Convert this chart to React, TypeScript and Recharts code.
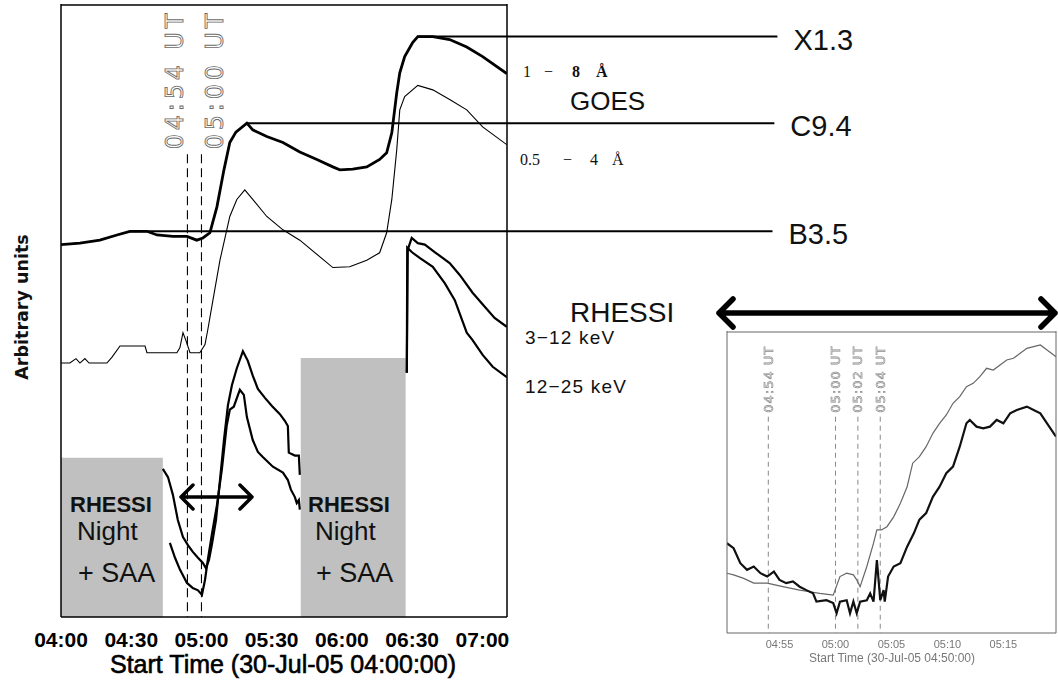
import React from 'react';
import { LineChart, Line, XAxis, YAxis, ReferenceLine, ReferenceArea } from 'recharts';

// ---------- main panel: minutes after 04:00 UT, arbitrary units ----------
const MAIN_X_DOMAIN: [number, number] = [0, 190.5];
const MAIN_Y_DOMAIN: [number, number] = [0, 8.28];
const MAIN_MAJOR_TICKS = [0, 30, 60, 90, 120, 150, 180];
const MAIN_MINOR_TICKS = [10, 20, 40, 50, 70, 80, 100, 110, 130, 140, 160, 170];
const MAIN_Y_TICKS = [1, 2, 3, 4, 5, 6, 7, 8];

// GOES 1-8 A
const GOES_LONG_T = [0, 8.1, 16.6, 23.9, 29.4, 36.7, 41.0, 47.8, 53.8, 58.0, 60.6, 63.6, 66.6, 69.6, 72.1, 74.7, 79.4, 81.9, 87.9, 94.8, 102.0, 109.3, 116.1, 119.1, 124.6, 130.6, 136.1, 139.1, 141.3, 143.4, 144.7, 146.8, 150.2, 152.4, 158.8, 166.0, 173.3, 180.1, 190.4];
const GOES_LONG_V = [5.03, 5.05, 5.09, 5.16, 5.21, 5.21, 5.16, 5.14, 5.14, 5.09, 5.12, 5.19, 5.54, 6.04, 6.41, 6.55, 6.67, 6.58, 6.49, 6.41, 6.28, 6.18, 6.08, 6.04, 6.05, 6.08, 6.18, 6.27, 6.54, 7.08, 7.35, 7.57, 7.76, 7.84, 7.84, 7.80, 7.70, 7.57, 7.34];

// GOES 0.5-4 A
const GOES_SHORT_T = [0, 3.8, 6.4, 8.1, 10.2, 12.0, 19.6, 21.8, 25.2, 35.9, 36.7, 49.5, 50.8, 52.1, 53.3, 55.1, 59.3, 61.5, 62.7, 64.9, 67.9, 72.1, 75.1, 78.5, 81.9, 87.9, 94.8, 102.0, 116.1, 123.3, 130.6, 136.1, 139.1, 141.3, 143.4, 144.7, 146.8, 152.4, 158.8, 166.0, 173.3, 180.1, 190.4];
const GOES_SHORT_V = [3.43, 3.43, 3.49, 3.43, 3.49, 3.43, 3.43, 3.51, 3.66, 3.66, 3.57, 3.57, 3.64, 3.84, 3.74, 3.57, 3.57, 3.68, 3.88, 4.28, 4.82, 5.41, 5.64, 5.77, 5.64, 5.41, 5.23, 5.09, 4.72, 4.73, 4.82, 4.92, 5.19, 5.64, 6.31, 6.85, 7.03, 7.18, 7.12, 6.99, 6.85, 6.62, 6.38];

// RHESSI 3-12 keV, first and second daylight orbit
const HXR_LO_1_T = [43.5, 45.7, 47.8, 49.9, 52.1, 54.2, 56.3, 58.5, 60.6, 61.9, 63.2, 64.4, 66.2, 67.9, 69.6, 71.3, 73.0, 75.1, 77.7, 79.8, 81.9, 84.1, 87.1, 90.1, 93.5, 95.6, 96.9, 97.3, 99.9, 101.6, 102.0];
const HXR_LO_1_V = [2.0, 1.89, 1.65, 1.31, 1.08, 0.97, 0.88, 0.80, 0.73, 0.66, 0.77, 0.97, 1.31, 1.85, 2.39, 2.86, 3.13, 3.36, 3.59, 3.46, 3.26, 3.08, 2.96, 2.85, 2.74, 2.65, 2.58, 2.22, 2.18, 2.18, 1.92];
const HXR_LO_2_T = [147.7, 148.1, 149.8, 152.4, 155.4, 159.6, 166.0, 170.3, 175.8, 181.0, 185.2, 190.4];
const HXR_LO_2_V = [3.30, 4.96, 5.12, 5.05, 5.03, 4.93, 4.78, 4.62, 4.38, 4.19, 4.04, 3.92];

// RHESSI 12-25 keV
const HXR_HI_1_T = [46.5, 48.7, 50.8, 53.8, 56.3, 58.5, 60.2, 61.5, 62.7, 64.4, 66.6, 68.7, 70.8, 72.1, 73.8, 76.4, 78.1, 79.4, 81.9, 84.1, 86.2, 90.5, 94.8, 96.9, 98.2, 99.9, 100.7, 101.6, 102.0];
const HXR_HI_1_V = [1.0, 0.80, 0.64, 0.46, 0.39, 0.36, 0.30, 0.50, 0.77, 1.11, 1.51, 1.99, 2.59, 2.80, 2.84, 3.07, 3.0, 2.70, 2.39, 2.23, 2.16, 2.03, 1.95, 1.85, 1.72, 1.62, 1.54, 1.58, 1.45];
const HXR_HI_2_T = [147.7, 147.9, 149.8, 153.2, 158.8, 163.9, 168.2, 173.3, 175.8, 180.1, 184.4, 190.4];
const HXR_HI_2_V = [3.30, 4.99, 4.93, 4.85, 4.73, 4.51, 4.28, 3.84, 3.74, 3.54, 3.38, 3.24];

// GOES class levels
const LEVEL_NAMES = ['X1.3', 'C9.4', 'B3.5'];
const LEVEL_VALUES = [7.84, 6.67, 5.21];
const LEVEL_FROM = [152.4, 79.4, 29.4];
const LEVEL_TO = [306, 304.7, 303.9];

// RHESSI night + SAA intervals
const NIGHT_FROM = [0, 102.4];
const NIGHT_TO = [43.5, 147.2];
const NIGHT_TOP = [2.15, 3.5];

const MAIN_MARKER_T = [54, 60];
const MAIN_MARKER_TEXT = ['04:54 UT', '05:00 UT'];
const MAIN_MARKER_TOP = 6.25;

// ---------- inset: 04:50 - 05:20, counts (log) ----------
const INSET_X_DOMAIN: [number, number] = [50.31, 79.7];
const INSET_Y_DOMAIN: [number, number] = [2.07, 10000];
const INSET_MAJOR_TICKS = [55, 60, 65, 70, 75];
const INSET_MINOR_TICKS = [51, 52, 53, 54, 56, 57, 58, 59, 61, 62, 63, 64, 66, 67, 68, 69, 71, 72, 73, 74, 76, 77, 78, 79];
const INSET_Y_MAJOR = [10, 100, 1000];
const INSET_Y_MINOR = [3, 4, 5, 6, 7, 8, 9, 20, 30, 40, 50, 60, 70, 80, 90, 200, 300, 400, 500, 600, 700, 800, 900, 2000, 3000, 4000, 5000, 6000, 7000, 8000, 9000];

const INSET_LO_T = [50.3, 50.9, 51.8, 52.7, 53.9, 55.3, 56.8, 57.7, 58.6, 59.8, 60.4, 61.0, 61.6, 61.9, 62.2, 62.8, 63.4, 63.7, 64.1, 64.6, 65.2, 65.8, 66.4, 66.9, 67.5, 68.1, 68.7, 69.3, 69.9, 70.5, 71.1, 71.7, 72.3, 72.9, 73.5, 74.1, 74.7, 75.3, 75.9, 76.5, 77.1, 77.7, 78.3, 78.9, 79.7];
const INSET_LO_V = [11.1, 10.6, 9.6, 8.4, 8.4, 7.6, 6.9, 6.6, 6.3, 6.0, 10.1, 11.1, 10.6, 9.2, 7.6, 13.4, 25.8, 37.4, 37.4, 41, 54, 79, 126, 244, 293, 388, 565, 748, 946, 1313, 1582, 2094, 2301, 2775, 3508, 3344, 3849, 4430, 4643, 5343, 6150, 6443, 6750, 5860, 4860];

const INSET_HI_T = [50.3, 50.9, 51.5, 52.1, 52.7, 53.3, 53.9, 54.5, 55.0, 55.6, 56.2, 56.8, 57.4, 58.0, 58.3, 59.2, 59.8, 60.1, 60.4, 61.0, 61.3, 61.6, 61.9, 62.2, 62.8, 63.1, 63.4, 63.7, 64.0, 64.3, 64.4, 64.7, 65.2, 65.8, 66.4, 67.0, 67.5, 68.1, 68.7, 69.3, 69.9, 70.5, 71.1, 71.7, 72.0, 72.6, 73.2, 73.8, 74.4, 75.0, 75.6, 76.2, 77.1, 77.7, 78.3, 78.9, 79.7];
const INSET_HI_V = [25.8, 22.4, 14.7, 12.2, 13.4, 11.1, 10.1, 11.6, 9.2, 8.4, 8.8, 7.6, 6.9, 6.3, 5.0, 5.2, 4.8, 3.6, 5.0, 5.2, 3.6, 5.0, 3.6, 5.0, 5.2, 6.3, 5.0, 16.1, 5.2, 6.9, 5.0, 10.1, 13.4, 14.7, 23.4, 34, 50, 60, 95, 126, 184, 222, 388, 748, 822, 681, 650, 681, 822, 748, 991, 1089, 1195, 1089, 991, 748, 514];

const INSET_MARKER_T = [54, 60, 62, 64];
const INSET_MARKER_TEXT = ['04:54 UT', '05:00 UT', '05:02 UT', '05:04 UT'];
const INSET_MARKER_TOP = 900;

const series = (t: number[], v: number[]) => t.map((x, i) => ({ t: x, v: v[i] }));

const fmtTime = (m: number) => {
  const h = 4 + Math.floor(m / 60);
  const mm = Math.round(m % 60);
  return `${String(h).padStart(2, '0')}:${String(mm).padStart(2, '0')}`;
};

const SANS = 'Liberation Sans, Arial, sans-serif';
const SERIF = 'Liberation Serif, Times New Roman, serif';
const MARK_FONT = 'DejaVu Sans, sans-serif';

// rotated text hung on a vertical reference line
const markerLabel = (text: string, dx: number, dy: number, style: any) => (props: any) => {
  const vb = props?.viewBox ?? { x: 0, y: 0 };
  const x = vb.x + dx;
  const y = vb.y + dy;
  return (
    <text x={x} y={y} transform={`rotate(-90 ${x} ${y})`} {...style}>
      {text}
    </text>
  );
};

const levelLabel = (text: string) => (props: any) => {
  const vb = props?.viewBox ?? { x: 0, y: 0, width: 0 };
  return (
    <text x={vb.x + vb.width + 16} y={vb.y + 13} fontSize={29} fontFamily={SANS} fill="#111">
      {text}
    </text>
  );
};

const MAIN_MARKER_STYLE = {
  fontFamily: MARK_FONT,
  fontSize: 24,
  letterSpacing: 3.8,
  fill: '#fff',
  stroke: '#6a6a6a',
  strokeWidth: 0.9,
};
const MAIN_MARKER_DX = [-4.5, 21.5];

const INSET_MARKER_STYLE = {
  fontFamily: MARK_FONT,
  fontSize: 13,
  letterSpacing: 1,
  fill: 'none',
  stroke: '#888',
  strokeWidth: 0.6,
};

const tickStroke = { stroke: '#000', strokeWidth: 1.3 };
const frameStroke = { stroke: '#000', strokeWidth: 1.5 };
const insetStroke = { stroke: '#666', strokeWidth: 1 };

function MainPanel() {
  const xCommon = { type: 'number' as const, dataKey: 't', domain: MAIN_X_DOMAIN, allowDataOverflow: true, interval: 0 as const };
  const yCommon = { type: 'number' as const, domain: MAIN_Y_DOMAIN, allowDataOverflow: true, interval: 0 as const };
  return (
    <LineChart width={1058} height={681} margin={{ top: 4, right: 551, bottom: 0, left: 61 }}>
      {/* inward tick marks on all four sides */}
      <XAxis xAxisId="minB" {...xCommon} orientation="bottom" mirror height={1} ticks={MAIN_MINOR_TICKS} tick={false} tickSize={7} tickLine={tickStroke} axisLine={false} />
      <XAxis xAxisId="majB" {...xCommon} orientation="bottom" mirror height={1} ticks={MAIN_MAJOR_TICKS} tick={false} tickSize={13} tickLine={tickStroke} axisLine={false} />
      <XAxis xAxisId="minT" {...xCommon} orientation="top" mirror height={1} ticks={MAIN_MINOR_TICKS} tick={false} tickSize={8} tickLine={tickStroke} axisLine={frameStroke} />
      <XAxis xAxisId="majT" {...xCommon} orientation="top" mirror height={1} ticks={MAIN_MAJOR_TICKS} tick={false} tickSize={12} tickLine={tickStroke} axisLine={false} />
      <XAxis
        xAxisId="x"
        {...xCommon}
        orientation="bottom"
        height={64}
        ticks={MAIN_MAJOR_TICKS}
        tickFormatter={fmtTime}
        tickLine={false}
        tickSize={6}
        tickMargin={9}
        axisLine={frameStroke}
        tick={{ fill: '#000', fontSize: 21, fontWeight: 700, fontFamily: SANS }}
      />
      <YAxis yAxisId="y" {...yCommon} orientation="left" mirror width={1} ticks={MAIN_Y_TICKS} tick={false} tickSize={8} tickLine={tickStroke} axisLine={frameStroke} />
      <YAxis yAxisId="yR" {...yCommon} orientation="right" mirror width={1} ticks={MAIN_Y_TICKS} tick={false} tickSize={8} tickLine={tickStroke} axisLine={frameStroke} />

      {NIGHT_FROM.map((x1, i) => (
        <ReferenceArea key={`night-${i}`} xAxisId="x" yAxisId="y" x1={x1} x2={NIGHT_TO[i]} y1={0} y2={NIGHT_TOP[i]} fill="#c0c0c0" fillOpacity={1} stroke="none" />
      ))}

      {MAIN_MARKER_T.map((t, i) => (
        <ReferenceLine
          key={`mk-${t}`}
          xAxisId="x"
          yAxisId="y"
          ifOverflow="visible"
          segment={[{ x: t, y: MAIN_MARKER_TOP }, { x: t, y: 0 }]}
          stroke="#000"
          strokeWidth={1.1}
          strokeDasharray="9 5"
          label={markerLabel(MAIN_MARKER_TEXT[i], MAIN_MARKER_DX[i], -5, MAIN_MARKER_STYLE)}
        />
      ))}

      <Line xAxisId="x" yAxisId="y" data={series(GOES_SHORT_T, GOES_SHORT_V)} dataKey="v" type="linear" stroke="#000" strokeWidth={1.1} dot={false} isAnimationActive={false} />
      <Line xAxisId="x" yAxisId="y" data={series(GOES_LONG_T, GOES_LONG_V)} dataKey="v" type="linear" stroke="#000" strokeWidth={2.8} dot={false} isAnimationActive={false} />
      <Line xAxisId="x" yAxisId="y" data={series(HXR_LO_1_T, HXR_LO_1_V)} dataKey="v" type="linear" stroke="#000" strokeWidth={2.2} dot={false} isAnimationActive={false} />
      <Line xAxisId="x" yAxisId="y" data={series(HXR_HI_1_T, HXR_HI_1_V)} dataKey="v" type="linear" stroke="#000" strokeWidth={2.2} dot={false} isAnimationActive={false} />
      <Line xAxisId="x" yAxisId="y" data={series(HXR_LO_2_T, HXR_LO_2_V)} dataKey="v" type="linear" stroke="#000" strokeWidth={2.2} dot={false} isAnimationActive={false} />
      <Line xAxisId="x" yAxisId="y" data={series(HXR_HI_2_T, HXR_HI_2_V)} dataKey="v" type="linear" stroke="#000" strokeWidth={2.2} dot={false} isAnimationActive={false} />

      {LEVEL_NAMES.map((name, i) => (
        <ReferenceLine
          key={name}
          xAxisId="x"
          yAxisId="y"
          ifOverflow="visible"
          segment={[{ x: LEVEL_FROM[i], y: LEVEL_VALUES[i] }, { x: LEVEL_TO[i], y: LEVEL_VALUES[i] }]}
          stroke="#000"
          strokeWidth={2}
          label={levelLabel(name)}
        />
      ))}
    </LineChart>
  );
}

function InsetPanel() {
  const xCommon = { type: 'number' as const, dataKey: 't', domain: INSET_X_DOMAIN, allowDataOverflow: true, interval: 0 as const };
  const yCommon = { type: 'number' as const, scale: 'log' as const, domain: INSET_Y_DOMAIN, allowDataOverflow: true, interval: 0 as const };
  return (
    <div style={{ position: 'absolute', left: 680, top: 300, width: 378, height: 381, filter: 'blur(0.45px)' }}>
      <LineChart width={378} height={381} margin={{ top: 31, right: 2, bottom: 0, left: 47 }}>
        <XAxis xAxisId="minB" {...xCommon} orientation="bottom" mirror height={1} ticks={INSET_MINOR_TICKS} tick={false} tickSize={4} tickLine={insetStroke} axisLine={false} />
        <XAxis xAxisId="majB" {...xCommon} orientation="bottom" mirror height={1} ticks={INSET_MAJOR_TICKS} tick={false} tickSize={7} tickLine={insetStroke} axisLine={false} />
        <XAxis xAxisId="minT" {...xCommon} orientation="top" mirror height={1} ticks={INSET_MINOR_TICKS} tick={false} tickSize={4} tickLine={insetStroke} axisLine={insetStroke} />
        <XAxis xAxisId="majT" {...xCommon} orientation="top" mirror height={1} ticks={INSET_MAJOR_TICKS} tick={false} tickSize={7} tickLine={insetStroke} axisLine={false} />
        <XAxis
          xAxisId="x"
          {...xCommon}
          orientation="bottom"
          height={48}
          ticks={INSET_MAJOR_TICKS}
          tickFormatter={fmtTime}
          tickLine={false}
          tickSize={6}
          tickMargin={1}
          axisLine={insetStroke}
          tick={{ fill: '#777', fontSize: 11, fontFamily: SANS }}
        />
        <YAxis yAxisId="y" {...yCommon} orientation="left" mirror width={1} ticks={INSET_Y_MAJOR} tick={false} tickSize={8} tickLine={insetStroke} axisLine={insetStroke} />
        <YAxis yAxisId="yMin" {...yCommon} orientation="left" mirror width={1} ticks={INSET_Y_MINOR} tick={false} tickSize={4} tickLine={insetStroke} axisLine={false} />
        <YAxis yAxisId="yR" {...yCommon} orientation="right" mirror width={1} ticks={INSET_Y_MAJOR} tick={false} tickSize={8} tickLine={insetStroke} axisLine={insetStroke} />
        <YAxis yAxisId="yRMin" {...yCommon} orientation="right" mirror width={1} ticks={INSET_Y_MINOR} tick={false} tickSize={4} tickLine={insetStroke} axisLine={false} />

        {INSET_MARKER_T.map((t, i) => (
          <ReferenceLine
            key={`imk-${t}`}
            xAxisId="x"
            yAxisId="y"
            ifOverflow="visible"
            segment={[{ x: t, y: INSET_MARKER_TOP }, { x: t, y: INSET_Y_DOMAIN[0] }]}
            stroke="#888"
            strokeWidth={1}
            strokeDasharray="5 4"
            label={markerLabel(INSET_MARKER_TEXT[i], 4.5, -4, INSET_MARKER_STYLE)}
          />
        ))}

        <Line xAxisId="x" yAxisId="y" data={series(INSET_LO_T, INSET_LO_V)} dataKey="v" type="linear" stroke="#666" strokeWidth={1.2} dot={false} isAnimationActive={false} />
        <Line xAxisId="x" yAxisId="y" data={series(INSET_HI_T, INSET_HI_V)} dataKey="v" type="linear" stroke="#111" strokeWidth={2.2} dot={false} isAnimationActive={false} />
      </LineChart>
      <svg width={378} height={381} style={{ position: 'absolute', left: 0, top: 0, pointerEvents: 'none' }}>
        <text x={212} y={362} textAnchor="middle" fontSize={12} fontFamily={SANS} fill="#777">
          Start Time (30-Jul-05 04:50:00)
        </text>
      </svg>
    </div>
  );
}

function Annotations() {
  const boxText = { fontFamily: SANS, fill: '#111' };
  return (
    <svg width={1058} height={681} style={{ position: 'absolute', left: 0, top: 0, pointerEvents: 'none' }}>
      {/* axis titles */}
      <text x={28} y={307} transform="rotate(-90 28 307)" textAnchor="middle" fontSize={17.5} fontWeight={700} fontFamily="DejaVu Sans, sans-serif" fill="#111">
        Arbitrary units
      </text>
      <text x={283} y={673} textAnchor="middle" fontSize={25} fontFamily={SANS} fill="#000" stroke="#000" strokeWidth={0.6}>
        Start Time (30-Jul-05 04:00:00)
      </text>

      {/* night boxes */}
      {[0, 238].map((dx) => (
        <g key={dx}>
          <text x={70 + dx} y={512} fontSize={22} fontWeight={700} {...boxText}>RHESSI</text>
          <text x={77 + dx} y={540} fontSize={26} {...boxText}>Night</text>
          <text x={78 + dx} y={582} fontSize={27} {...boxText}>+ SAA</text>
        </g>
      ))}

      {/* channel labels */}
      <text y={77} fontSize={16} fontFamily={SERIF} fill="#111">
        <tspan x={523}>1</tspan>
        <tspan x={544}>−</tspan>
        <tspan x={572} fontWeight={700}>8</tspan>
        <tspan x={596} fontWeight={700}>Å</tspan>
      </text>
      <text x={570} y={110} fontSize={26} fontFamily={SANS} fill="#111">GOES</text>
      <text y={165} fontSize={16} fontFamily={SERIF} fill="#111">
        <tspan x={520}>0.5</tspan>
        <tspan x={563}>−</tspan>
        <tspan x={590}>4</tspan>
        <tspan x={612}>Å</tspan>
      </text>
      <text x={570} y={322} fontSize={28} fontFamily={SANS} fill="#111">RHESSI</text>
      <text x={525} y={344} fontSize={19} letterSpacing={1.2} fontFamily={SANS} fill="#111">3−12 keV</text>
      <text x={525} y={393} fontSize={19} letterSpacing={1.2} fontFamily={SANS} fill="#111">12−25 keV</text>

      {/* interval arrows */}
      <g stroke="#000" strokeWidth={3.5} fill="none" strokeLinecap="round" strokeLinejoin="round">
        <path d="M181,497 L252,497 M193,485 L181,497 L193,509 M240,485 L252,497 L240,509" />
      </g>
      <g stroke="#000" strokeWidth={5.5} fill="none" strokeLinecap="round" strokeLinejoin="round">
        <path d="M719,313 L1055,313 M733,299 L719,313 L733,327 M1041,299 L1055,313 L1041,327" />
      </g>
    </svg>
  );
}

export default function App() {
  return (
    <div style={{ position: 'absolute', left: 0, top: 0, width: 1058, height: 681, background: '#fff', overflow: 'hidden' }}>
      <div style={{ position: 'absolute', left: 0, top: 0 }}>
        <MainPanel />
      </div>
      <InsetPanel />
      <Annotations />
    </div>
  );
}
